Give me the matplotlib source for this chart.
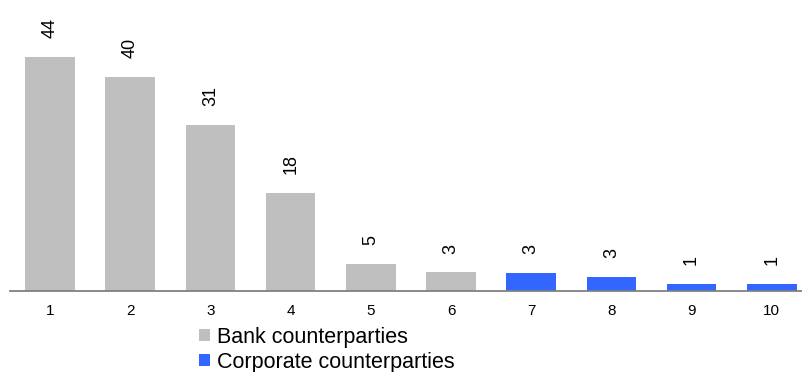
import matplotlib
matplotlib.use("Agg")
import matplotlib.pyplot as plt
from matplotlib.patches import Patch

plt.rcParams['font.family'] = ['Liberation Sans', 'DejaVu Sans']

categories = ['1', '2', '3', '4', '5', '6', '7', '8', '9', '10']
values = [44.0, 40.2, 31.2, 18.4, 5.0, 3.4, 3.3, 2.6, 1.3, 1.3]
labels = ['44', '40', '31', '18', '5', '3', '3', '3', '1', '1']
groups = ['Bank', 'Bank', 'Bank', 'Bank', 'Bank', 'Bank',
          'Corporate', 'Corporate', 'Corporate', 'Corporate']
group_names = {'Bank': 'Bank counterparties', 'Corporate': 'Corporate counterparties'}
group_colors = {'Bank': '#BFBFBF', 'Corporate': '#3366FF'}

fig = plt.figure(figsize=(8.03, 3.72), dpi=100)
ax = fig.add_axes([10 / 803, 81.5 / 372, 793 / 803, 280 / 372])

x = list(range(1, len(categories) + 1))
colors = [group_colors[g] for g in groups]
bars = ax.bar(x, values, width=0.62, color=colors, zorder=2)

for xi, v, lab in zip(x, values, labels):
    ax.annotate(lab, xy=(xi, v), xytext=(0, 13.5), textcoords='offset points',
                rotation=90, ha='center', va='bottom', fontsize=13)

ax.set_xlim(0.5, 10.39)
ax.set_ylim(0, 52.7)
ax.set_xticks(x)
ax.set_xticklabels(categories, fontsize=11)
ax.tick_params(axis='x', length=0, pad=10)
ax.set_yticks([])
for s in ['top', 'right', 'left']:
    ax.spines[s].set_visible(False)
ax.spines['bottom'].set_color('#808080')
ax.spines['bottom'].set_linewidth(1.3)

handles = [Patch(facecolor=group_colors[k], edgecolor='none', label=group_names[k])
           for k in ['Bank', 'Corporate']]
fig.legend(handles=handles, loc='upper left', bbox_to_anchor=(199 / 803, 1 - 326.5 / 372),
           frameon=False, fontsize=15.5, handlelength=0.51, handleheight=0.51,
           handletextpad=0.31, borderpad=0, borderaxespad=0, labelspacing=0.2)

fig.savefig('out.png', dpi=100)
